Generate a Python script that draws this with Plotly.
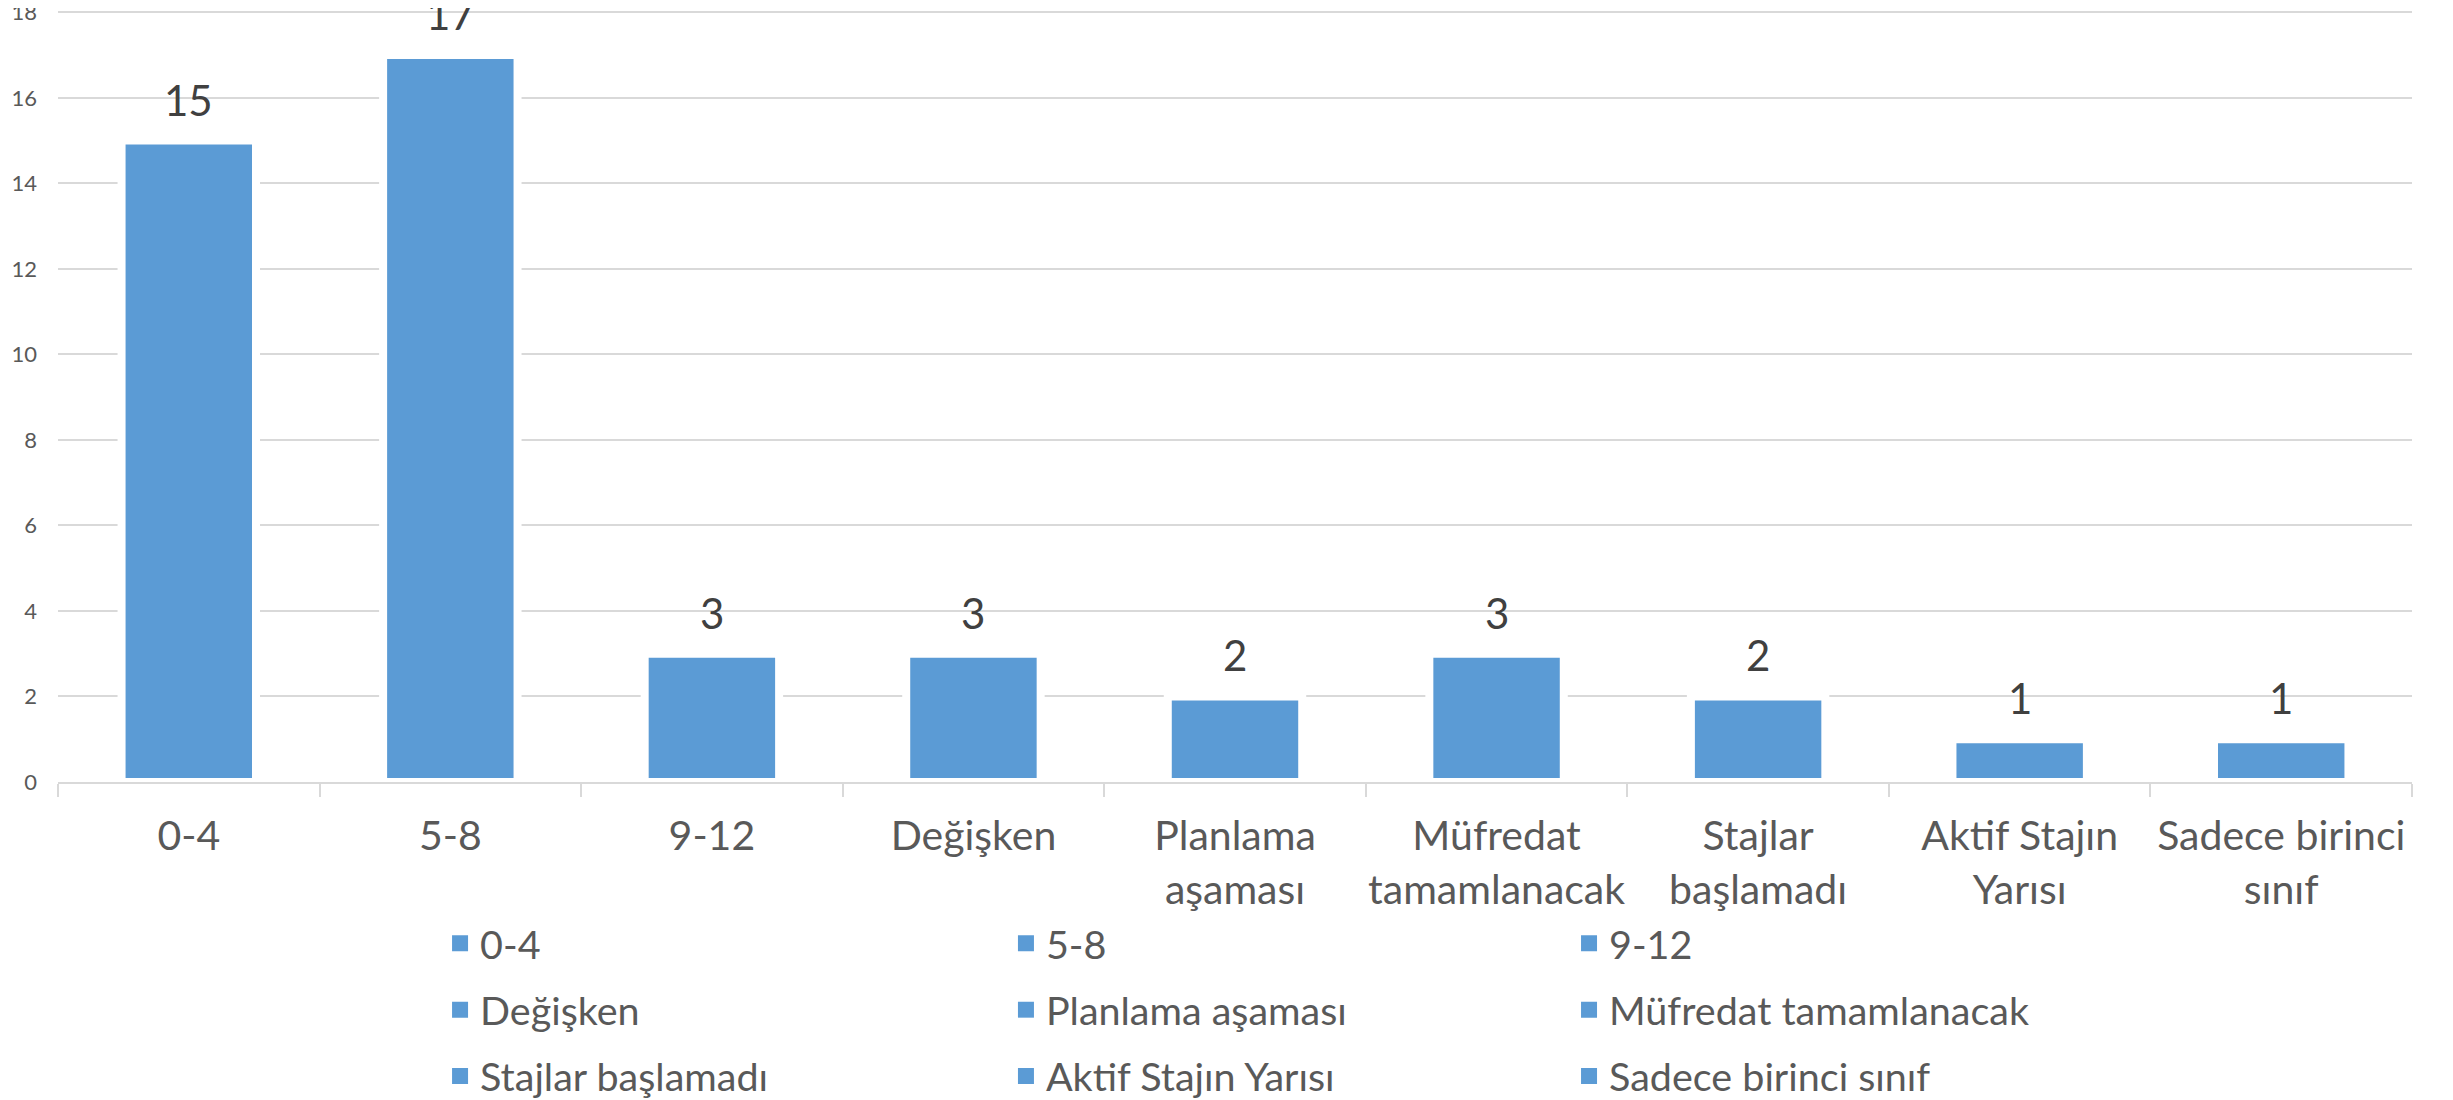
import plotly.graph_objects as go

categories = ["0-4", "5-8", "9-12", "Değişken", "Planlama aşaması",
              "Müfredat tamamlanacak", "Stajlar başlamadı",
              "Aktif Stajın Yarısı", "Sadece birinci sınıf"]
tick_labels = ["0-4", "5-8", "9-12", "Değişken", "Planlama<br>aşaması",
               "Müfredat<br>tamamlanacak", "Stajlar<br>başlamadı",
               "Aktif Stajın<br>Yarısı", "Sadece birinci<br>sınıf"]
values = [15, 17, 3, 3, 2, 3, 2, 1, 1]
y_ticks = [0, 2, 4, 6, 8, 10, 12, 14, 16, 18]

BLUE = "#5B9BD5"
GRID = "#D9D9D9"
TXT = "#595959"
FONT = "Lato"

fig = go.Figure()

for c, v in zip(categories, values):
    fig.add_trace(go.Bar(
        x=[c], y=[v], name=c, showlegend=False,
        marker=dict(color=BLUE, line=dict(color="white", width=8)),
        hoverinfo="x+y",
    ))

legend_ids = ["legend", "legend2", "legend3"]
for i, c in enumerate(categories):
    fig.add_trace(go.Scatter(
        x=[None], y=[None], mode="markers", name=c,
        marker=dict(symbol="square", size=16, color=BLUE),
        legend=legend_ids[i % 3], legendgroup=c, showlegend=True,
    ))

for c, v in zip(categories, values):
    fig.add_annotation(
        x=c, y=v, text=str(v), showarrow=False,
        xanchor="center", yanchor="bottom", yshift=14,
        font=dict(family=FONT, size=42, color="#404040"),
    )

legend_common = dict(
    orientation="v", xanchor="left", yanchor="top", y=-0.1675,
    font=dict(family=FONT, size=39.5, color=TXT),
    tracegroupgap=12, traceorder="grouped",
    bgcolor="rgba(0,0,0,0)", borderwidth=0,
)

fig.update_layout(
    width=2445, height=1092,
    margin=dict(l=50, r=41, t=3, b=318, autoexpand=False),
    paper_bgcolor="white", plot_bgcolor="white",
    barmode="overlay", bargap=0.486,
    font=dict(family=FONT, color=TXT),
    legend=dict(x=0.1623, **legend_common),
    legend2=dict(x=0.4027, **legend_common),
    legend3=dict(x=0.6419, **legend_common),
    xaxis=dict(
        type="category", categoryorder="array", categoryarray=categories,
        tickmode="array", tickvals=categories, ticktext=tick_labels,
        range=[-0.5, len(categories) - 0.5],
        showline=True, linecolor=GRID, linewidth=2,
        ticks="outside", tickson="boundaries", ticklen=13, tickwidth=2,
        tickcolor=GRID, showgrid=False, layer="above traces",
        ticklabelstandoff=17, tickangle=0,
        tickfont=dict(family=FONT, size=41, color=TXT),
    ),
    yaxis=dict(
        range=[0, 18.03], tickmode="array", tickvals=y_ticks,
        showgrid=True, gridcolor=GRID, gridwidth=2,
        zeroline=False, showline=False, ticks="",
        ticklabelstandoff=20, ticklabeloverflow="allow",
        tickfont=dict(family=FONT, size=22, color=TXT),
    ),
)

fig.write_html("out.html")
